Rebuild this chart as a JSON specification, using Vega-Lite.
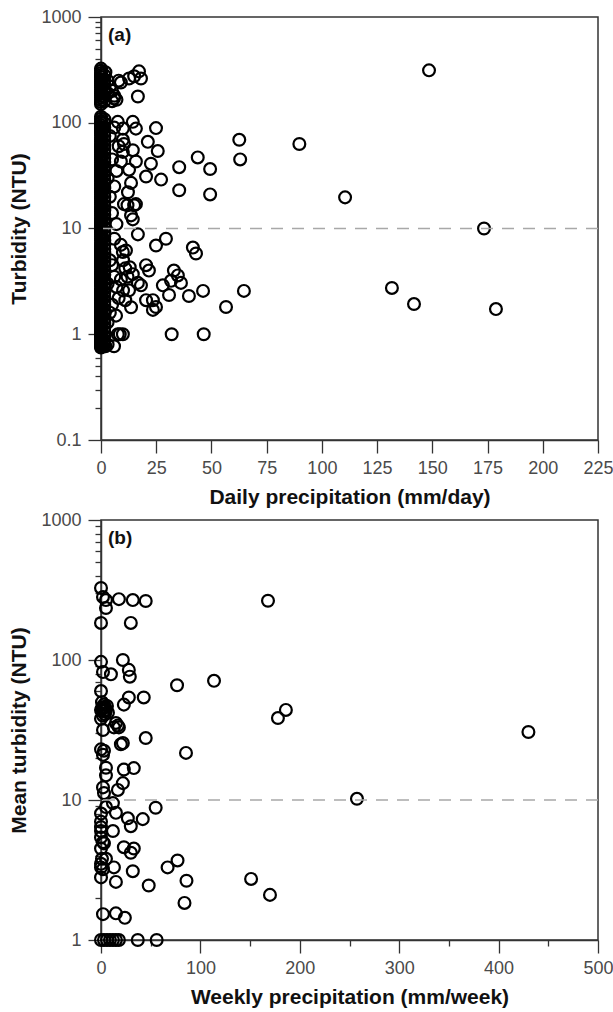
{
  "$schema": "https://vega.github.io/schema/vega-lite/v6.json",
  "padding": {"left": 8, "top": 7, "right": 10, "bottom": 4},
  "spacing": 2,
  "config": {
    "font": "Liberation Sans",
    "view": {"stroke": "#333333", "strokeWidth": 1.5},
    "axis": {
      "grid": false,
      "domainColor": "#333333",
      "domainWidth": 1.5,
      "tickColor": "#333333",
      "tickWidth": 1.3,
      "labelFont": "Liberation Sans",
      "labelFontSize": 18,
      "labelColor": "#4a4a4a",
      "titleFont": "Liberation Sans",
      "titleFontSize": 21,
      "titleFontWeight": "bold",
      "titleColor": "#111111"
    }
  },
  "datasets": {
    "daily": [
      {"rain":0,"ntu":0.75},{"rain":0,"ntu":0.78},{"rain":0,"ntu":0.8},{"rain":0,"ntu":0.82},{"rain":0,"ntu":0.85},{"rain":0,"ntu":0.88},{"rain":0,"ntu":0.9},{"rain":0,"ntu":0.93},{"rain":0,"ntu":0.96},{"rain":0,"ntu":1.0},
      {"rain":0,"ntu":1.03},{"rain":0,"ntu":1.07},{"rain":0,"ntu":1.1},{"rain":0,"ntu":1.15},{"rain":0,"ntu":1.2},{"rain":0,"ntu":1.25},{"rain":0,"ntu":1.3},{"rain":0,"ntu":1.35},{"rain":0,"ntu":1.4},{"rain":0,"ntu":1.45},
      {"rain":0,"ntu":1.5},{"rain":0,"ntu":1.57},{"rain":0,"ntu":1.63},{"rain":0,"ntu":1.7},{"rain":0,"ntu":1.78},{"rain":0,"ntu":1.85},{"rain":0,"ntu":1.93},{"rain":0,"ntu":2.0},{"rain":0,"ntu":2.1},{"rain":0,"ntu":2.2},
      {"rain":0,"ntu":2.3},{"rain":0,"ntu":2.4},{"rain":0,"ntu":2.5},{"rain":0,"ntu":2.6},{"rain":0,"ntu":2.7},{"rain":0,"ntu":2.85},{"rain":0,"ntu":3.0},{"rain":0,"ntu":3.1},{"rain":0,"ntu":3.25},{"rain":0,"ntu":3.4},
      {"rain":0,"ntu":3.55},{"rain":0,"ntu":3.7},{"rain":0,"ntu":3.9},{"rain":0,"ntu":4.1},{"rain":0,"ntu":4.3},{"rain":0,"ntu":4.5},{"rain":0,"ntu":4.7},{"rain":0,"ntu":4.9},{"rain":0,"ntu":5.1},{"rain":0,"ntu":5.35},
      {"rain":0,"ntu":5.6},{"rain":0,"ntu":5.85},{"rain":0,"ntu":6.1},{"rain":0,"ntu":6.4},{"rain":0,"ntu":6.7},{"rain":0,"ntu":7.0},{"rain":0,"ntu":7.3},{"rain":0,"ntu":7.7},{"rain":0,"ntu":8.0},{"rain":0,"ntu":8.4},
      {"rain":0,"ntu":8.8},{"rain":0,"ntu":9.2},{"rain":0,"ntu":9.6},{"rain":0,"ntu":10},{"rain":0,"ntu":10.5},{"rain":0,"ntu":11},{"rain":0,"ntu":11.5},{"rain":0,"ntu":12},{"rain":0,"ntu":12.6},{"rain":0,"ntu":13.2},
      {"rain":0,"ntu":13.8},{"rain":0,"ntu":14.5},{"rain":0,"ntu":15.2},{"rain":0,"ntu":16},{"rain":0,"ntu":16.8},{"rain":0,"ntu":17.5},{"rain":0,"ntu":18.3},{"rain":0,"ntu":19.2},{"rain":0,"ntu":20},{"rain":0,"ntu":21},
      {"rain":0,"ntu":22},{"rain":0,"ntu":23},{"rain":0,"ntu":24},{"rain":0,"ntu":25.5},{"rain":0,"ntu":26.5},{"rain":0,"ntu":28},{"rain":0,"ntu":29},{"rain":0,"ntu":30.5},{"rain":0,"ntu":32},{"rain":0,"ntu":33.5},
      {"rain":0,"ntu":35},{"rain":0,"ntu":36.5},{"rain":0,"ntu":38},{"rain":0,"ntu":40},{"rain":0,"ntu":42},{"rain":0,"ntu":44},{"rain":0,"ntu":46},{"rain":0,"ntu":48},{"rain":0,"ntu":50},{"rain":0,"ntu":53},
      {"rain":0,"ntu":55},{"rain":0,"ntu":58},{"rain":0,"ntu":60},{"rain":0,"ntu":63},{"rain":0,"ntu":66},{"rain":0,"ntu":69},{"rain":0,"ntu":72},{"rain":0,"ntu":76},{"rain":0,"ntu":80},{"rain":0,"ntu":83},
      {"rain":0,"ntu":87},{"rain":0,"ntu":91},{"rain":0,"ntu":95},{"rain":0,"ntu":100},{"rain":0,"ntu":104},{"rain":0,"ntu":109},{"rain":0,"ntu":114},
      {"rain":0,"ntu":150},{"rain":0,"ntu":157},{"rain":0,"ntu":164},{"rain":0,"ntu":172},{"rain":0,"ntu":180},{"rain":0,"ntu":188},{"rain":0,"ntu":196},{"rain":0,"ntu":205},{"rain":0,"ntu":215},{"rain":0,"ntu":225},
      {"rain":0,"ntu":235},{"rain":0,"ntu":246},{"rain":0,"ntu":257},{"rain":0,"ntu":270},{"rain":0,"ntu":282},{"rain":0,"ntu":295},{"rain":0,"ntu":310},{"rain":0,"ntu":325},
      {"rain":1.5,"ntu":0.8},{"rain":1.5,"ntu":0.87},{"rain":1.5,"ntu":0.95},{"rain":1.5,"ntu":1.05},{"rain":1.5,"ntu":1.15},{"rain":1.5,"ntu":1.27},{"rain":1.5,"ntu":1.4},{"rain":1.5,"ntu":1.55},{"rain":1.5,"ntu":1.7},{"rain":1.5,"ntu":1.87},
      {"rain":1.5,"ntu":2.05},{"rain":1.5,"ntu":2.25},{"rain":1.5,"ntu":2.5},{"rain":1.5,"ntu":2.75},{"rain":1.5,"ntu":3.0},{"rain":1.5,"ntu":3.3},{"rain":1.5,"ntu":3.65},{"rain":1.5,"ntu":4.0},{"rain":1.5,"ntu":4.4},{"rain":1.5,"ntu":4.85},
      {"rain":1.5,"ntu":5.3},{"rain":1.5,"ntu":5.85},{"rain":1.5,"ntu":6.4},{"rain":1.5,"ntu":7.0},{"rain":1.5,"ntu":7.7},{"rain":1.5,"ntu":8.5},{"rain":1.5,"ntu":9.3},{"rain":1.5,"ntu":10.2},{"rain":1.5,"ntu":11.2},{"rain":1.5,"ntu":12.3},
      {"rain":1.5,"ntu":13.5},{"rain":1.5,"ntu":14.9},{"rain":1.5,"ntu":16.4},{"rain":1.5,"ntu":18},{"rain":1.5,"ntu":19.8},{"rain":1.5,"ntu":21.8},{"rain":1.5,"ntu":24},{"rain":1.5,"ntu":26.4},{"rain":1.5,"ntu":29},{"rain":1.5,"ntu":32},
      {"rain":1.5,"ntu":35},{"rain":1.5,"ntu":38.5},{"rain":1.5,"ntu":42.5},{"rain":1.5,"ntu":46.5},{"rain":1.5,"ntu":51},{"rain":1.5,"ntu":56},{"rain":1.5,"ntu":62},{"rain":1.5,"ntu":68},{"rain":1.5,"ntu":75},{"rain":1.5,"ntu":82},
      {"rain":1.5,"ntu":90},{"rain":1.5,"ntu":99},{"rain":1.5,"ntu":108},{"rain":1.5,"ntu":160},{"rain":1.5,"ntu":176},{"rain":1.5,"ntu":193},{"rain":1.5,"ntu":212},{"rain":1.5,"ntu":233},{"rain":1.5,"ntu":256},{"rain":1.5,"ntu":282},
      {"rain":2,"ntu":300},{"rain":3,"ntu":250},{"rain":4,"ntu":220},{"rain":5,"ntu":200},{"rain":6,"ntu":180},{"rain":7,"ntu":165},{"rain":5,"ntu":160},{"rain":3,"ntu":190},{"rain":8,"ntu":250},{"rain":9,"ntu":240},
      {"rain":17.2,"ntu":306},{"rain":18.1,"ntu":262},{"rain":15,"ntu":275},{"rain":12.7,"ntu":262},{"rain":16.7,"ntu":177},{"rain":5.9,"ntu":170},
      {"rain":7.6,"ntu":102},{"rain":14.4,"ntu":102},{"rain":15.8,"ntu":88},{"rain":24.9,"ntu":89},{"rain":21.2,"ntu":66},{"rain":25.7,"ntu":54},{"rain":14.4,"ntu":55},{"rain":22.6,"ntu":41},{"rain":20.4,"ntu":31},{"rain":27.2,"ntu":29},
      {"rain":35.4,"ntu":38},{"rain":43.8,"ntu":47},{"rain":49.4,"ntu":36.5},{"rain":35.4,"ntu":23},{"rain":49.4,"ntu":21},{"rain":62.6,"ntu":69},{"rain":63,"ntu":45},{"rain":89.8,"ntu":63},{"rain":15,"ntu":16.6},{"rain":12,"ntu":16.6},
      {"rain":13.6,"ntu":27},{"rain":12.7,"ntu":36},{"rain":9.9,"ntu":53},{"rain":9.9,"ntu":69},{"rain":9.9,"ntu":88},{"rain":15.8,"ntu":43},{"rain":9,"ntu":43},{"rain":13.6,"ntu":13.3},{"rain":10.4,"ntu":63},
      {"rain":148.5,"ntu":313},{"rain":110.5,"ntu":19.7},{"rain":173.4,"ntu":10},{"rain":131.7,"ntu":2.74},{"rain":141.7,"ntu":1.93},{"rain":178.8,"ntu":1.73},
      {"rain":14.4,"ntu":12.2},{"rain":16.7,"ntu":8.8},{"rain":24.9,"ntu":6.9},{"rain":29.4,"ntu":8.0},{"rain":41.6,"ntu":6.6},{"rain":43,"ntu":5.8},{"rain":9.9,"ntu":6.0},{"rain":20.4,"ntu":4.5},{"rain":21.7,"ntu":4.0},{"rain":33,"ntu":4.0},
      {"rain":34.8,"ntu":3.6},{"rain":31.7,"ntu":3.2},{"rain":36.2,"ntu":3.06},{"rain":28,"ntu":2.9},{"rain":18.1,"ntu":2.9},{"rain":30.8,"ntu":2.35},{"rain":39.8,"ntu":2.3},{"rain":46.2,"ntu":2.57},{"rain":64.7,"ntu":2.57},{"rain":56.6,"ntu":1.81},
      {"rain":24.9,"ntu":1.81},{"rain":23.5,"ntu":1.7},{"rain":20.4,"ntu":2.1},{"rain":13.6,"ntu":1.8},{"rain":6.8,"ntu":1.5},{"rain":32,"ntu":1.0},{"rain":46.5,"ntu":1.0},{"rain":9.9,"ntu":1.0},{"rain":7.6,"ntu":1.0},{"rain":5.9,"ntu":0.77},
      {"rain":0,"ntu":0.77},{"rain":12.7,"ntu":2.6},{"rain":14.4,"ntu":3.7},{"rain":16.7,"ntu":3.06},{"rain":23.5,"ntu":2.1},{"rain":10.4,"ntu":17},{"rain":15.8,"ntu":17},{"rain":12.2,"ntu":22},{"rain":11.3,"ntu":6.2},
      {"rain":4,"ntu":5},{"rain":5,"ntu":4.5},{"rain":6,"ntu":3.5},{"rain":3,"ntu":3},{"rain":7,"ntu":2.8},{"rain":8,"ntu":2.2},{"rain":5,"ntu":1.9},{"rain":4,"ntu":1.6},{"rain":3,"ntu":1.3},{"rain":6,"ntu":8},
      {"rain":7,"ntu":11},{"rain":5,"ntu":14},{"rain":4,"ntu":20},{"rain":6,"ntu":25},{"rain":3,"ntu":30},{"rain":7,"ntu":35},{"rain":5,"ntu":45},{"rain":8,"ntu":60},{"rain":4,"ntu":75},{"rain":6,"ntu":90},
      {"rain":9,"ntu":7},{"rain":10,"ntu":5},{"rain":11,"ntu":4.2},{"rain":9,"ntu":3.3},{"rain":12,"ntu":3.5},{"rain":10,"ntu":2.6},{"rain":13,"ntu":4.3},{"rain":11,"ntu":2.1},{"rain":8.5,"ntu":1.0},{"rain":3,"ntu":0.8},{"rain":2,"ntu":0.77}
    ],
    "weekly": [
      {"rain":0,"ntu":327},{"rain":2,"ntu":282},{"rain":5,"ntu":268},{"rain":5,"ntu":235},{"rain":18,"ntu":272},{"rain":32,"ntu":268},{"rain":45,"ntu":264},{"rain":0,"ntu":184},{"rain":30,"ntu":184},{"rain":168,"ntu":265},
      {"rain":0,"ntu":97},{"rain":2,"ntu":82},{"rain":10,"ntu":79},{"rain":22,"ntu":100},{"rain":28,"ntu":85},{"rain":29,"ntu":76},{"rain":76.5,"ntu":66},{"rain":113.7,"ntu":71},{"rain":186,"ntu":44},{"rain":178,"ntu":38.5},
      {"rain":0,"ntu":60},{"rain":28,"ntu":54},{"rain":43,"ntu":54},{"rain":23,"ntu":48},{"rain":0,"ntu":44},{"rain":7,"ntu":42},{"rain":2,"ntu":31.6},{"rain":15,"ntu":35.5},{"rain":18,"ntu":33},{"rain":22,"ntu":25.5},
      {"rain":45,"ntu":27.7},{"rain":85.5,"ntu":21.7},{"rain":0,"ntu":23},{"rain":2,"ntu":40},{"rain":4,"ntu":46},{"rain":1,"ntu":50},{"rain":3,"ntu":43},{"rain":6,"ntu":47},{"rain":0,"ntu":38},{"rain":17,"ntu":34},
      {"rain":13,"ntu":33},{"rain":20,"ntu":25},{"rain":3,"ntu":22.5},{"rain":2,"ntu":21},{"rain":5,"ntu":17},{"rain":33,"ntu":16.9},{"rain":23,"ntu":16.5},{"rain":5,"ntu":15},{"rain":22,"ntu":13.2},{"rain":17,"ntu":11.8},
      {"rain":2,"ntu":12.3},{"rain":430,"ntu":30.6},{"rain":257.5,"ntu":10.2},{"rain":3,"ntu":11.2},{"rain":12,"ntu":9.5},{"rain":5,"ntu":8.9},{"rain":15,"ntu":8.1},{"rain":55,"ntu":8.8},{"rain":27,"ntu":7.4},{"rain":42,"ntu":7.3},
      {"rain":30,"ntu":6.5},{"rain":0,"ntu":6.4},{"rain":0,"ntu":6.0},{"rain":0,"ntu":5.4},{"rain":12,"ntu":6.0},{"rain":3,"ntu":4.9},{"rain":23,"ntu":4.6},{"rain":33,"ntu":4.5},{"rain":30,"ntu":4.2},{"rain":77,"ntu":3.7},
      {"rain":67,"ntu":3.3},{"rain":5,"ntu":3.8},{"rain":0,"ntu":3.3},{"rain":13,"ntu":3.3},{"rain":2,"ntu":3.2},{"rain":32,"ntu":3.1},{"rain":0,"ntu":2.8},{"rain":15,"ntu":2.6},{"rain":48,"ntu":2.45},{"rain":86,"ntu":2.65},
      {"rain":84,"ntu":1.84},{"rain":151,"ntu":2.73},{"rain":170,"ntu":2.1},{"rain":2,"ntu":1.53},{"rain":15,"ntu":1.55},{"rain":24,"ntu":1.44},{"rain":0,"ntu":8},{"rain":0,"ntu":7},{"rain":2,"ntu":5.0},{"rain":0,"ntu":4.5},
      {"rain":1,"ntu":3.8},{"rain":0,"ntu":3.5},{"rain":1,"ntu":45},{"rain":3,"ntu":48},{"rain":5,"ntu":44},{"rain":2,"ntu":46},{"rain":4,"ntu":41},
      {"rain":0,"ntu":1},{"rain":3,"ntu":1},{"rain":6,"ntu":1},{"rain":9,"ntu":1},{"rain":12,"ntu":1},{"rain":15,"ntu":1},{"rain":18,"ntu":1},{"rain":37,"ntu":1},{"rain":56,"ntu":1}
    ]
  },
  "vconcat": [
    {
      "width": 497,
      "height": 423,
      "layer": [
        {
          "data": {"name": "daily"},
          "mark": {"type": "point", "shape": "circle", "filled": false, "color": "black", "strokeWidth": 2.2, "size": 140, "opacity": 1},
          "encoding": {
            "x": {
              "field": "rain", "type": "quantitative",
              "scale": {"domain": [0, 225], "nice": false, "zero": false},
              "axis": {
                "title": "Daily precipitation (mm/day)",
                "values": [0, 12.5, 25, 37.5, 50, 62.5, 75, 87.5, 100, 112.5, 125, 137.5, 150, 162.5, 175, 187.5, 200, 212.5, 225],
                "labelExpr": "datum.value % 25 == 0 ? datum.label : ''",
                "tickSize": {"condition": {"test": "datum.value % 25 != 0", "value": 6}, "value": 13},
                "labelPadding": 6, "titlePadding": 9, "labelFlush": false
              }
            },
            "y": {
              "field": "ntu", "type": "quantitative",
              "scale": {"type": "log", "domain": [0.1, 1000], "nice": false},
              "axis": {
                "title": "Turbidity (NTU)",
                "values": [0.1, 0.2, 0.3, 0.4, 0.5, 0.6, 0.7, 0.8, 0.9, 1, 2, 3, 4, 5, 6, 7, 8, 9, 10, 20, 30, 40, 50, 60, 70, 80, 90, 100, 200, 300, 400, 500, 600, 700, 800, 900, 1000],
                "format": "~g",
                "labelExpr": "indexof([0.1, 1, 10, 100, 1000], datum.value) >= 0 ? datum.label : ''",
                "tickSize": {"condition": {"test": "indexof([0.1, 1, 10, 100, 1000], datum.value) < 0", "value": 6}, "value": 13},
                "labelPadding": 7, "titlePadding": 11, "labelFlush": false
              }
            }
          }
        },
        {
          "data": {"values": [{"ntu": 10}]},
          "mark": {"type": "rule", "color": "#a8a8a8", "strokeWidth": 1.5, "strokeDash": [12, 9]},
          "encoding": {"y": {"field": "ntu", "type": "quantitative"}}
        },
        {
          "data": {"values": [{"panel": "(a)", "rain": 0, "ntu": 1000}]},
          "mark": {"type": "text", "align": "left", "baseline": "top", "dx": 7, "dy": 9, "font": "Liberation Sans", "fontSize": 19, "fontWeight": "bold", "color": "#111111"},
          "encoding": {
            "x": {"field": "rain", "type": "quantitative"},
            "y": {"field": "ntu", "type": "quantitative"},
            "text": {"field": "panel"}
          }
        }
      ]
    },
    {
      "width": 497,
      "height": 420,
      "layer": [
        {
          "data": {"name": "weekly"},
          "mark": {"type": "point", "shape": "circle", "filled": false, "color": "black", "strokeWidth": 2.2, "size": 140, "opacity": 1},
          "encoding": {
            "x": {
              "field": "rain", "type": "quantitative",
              "scale": {"domain": [0, 500], "nice": false, "zero": false},
              "axis": {
                "title": "Weekly precipitation (mm/week)",
                "values": [0, 50, 100, 150, 200, 250, 300, 350, 400, 450, 500],
                "labelExpr": "datum.value % 100 == 0 ? datum.label : ''",
                "tickSize": {"condition": {"test": "datum.value % 100 != 0", "value": 6}, "value": 13},
                "labelPadding": 6, "titlePadding": 9, "labelFlush": false
              }
            },
            "y": {
              "field": "ntu", "type": "quantitative",
              "scale": {"type": "log", "domain": [1, 1000], "nice": false},
              "axis": {
                "title": "Mean turbidity (NTU)",
                "values": [1, 2, 3, 4, 5, 6, 7, 8, 9, 10, 20, 30, 40, 50, 60, 70, 80, 90, 100, 200, 300, 400, 500, 600, 700, 800, 900, 1000],
                "format": "~g",
                "labelExpr": "indexof([1, 10, 100, 1000], datum.value) >= 0 ? datum.label : ''",
                "tickSize": {"condition": {"test": "indexof([1, 10, 100, 1000], datum.value) < 0", "value": 6}, "value": 13},
                "labelPadding": 7, "titlePadding": 11, "labelFlush": false
              }
            }
          }
        },
        {
          "data": {"values": [{"ntu": 10}]},
          "mark": {"type": "rule", "color": "#a8a8a8", "strokeWidth": 1.5, "strokeDash": [12, 9]},
          "encoding": {"y": {"field": "ntu", "type": "quantitative"}}
        },
        {
          "data": {"values": [{"panel": "(b)", "rain": 0, "ntu": 1000}]},
          "mark": {"type": "text", "align": "left", "baseline": "top", "dx": 7, "dy": 9, "font": "Liberation Sans", "fontSize": 19, "fontWeight": "bold", "color": "#111111"},
          "encoding": {
            "x": {"field": "rain", "type": "quantitative"},
            "y": {"field": "ntu", "type": "quantitative"},
            "text": {"field": "panel"}
          }
        }
      ]
    }
  ]
}
